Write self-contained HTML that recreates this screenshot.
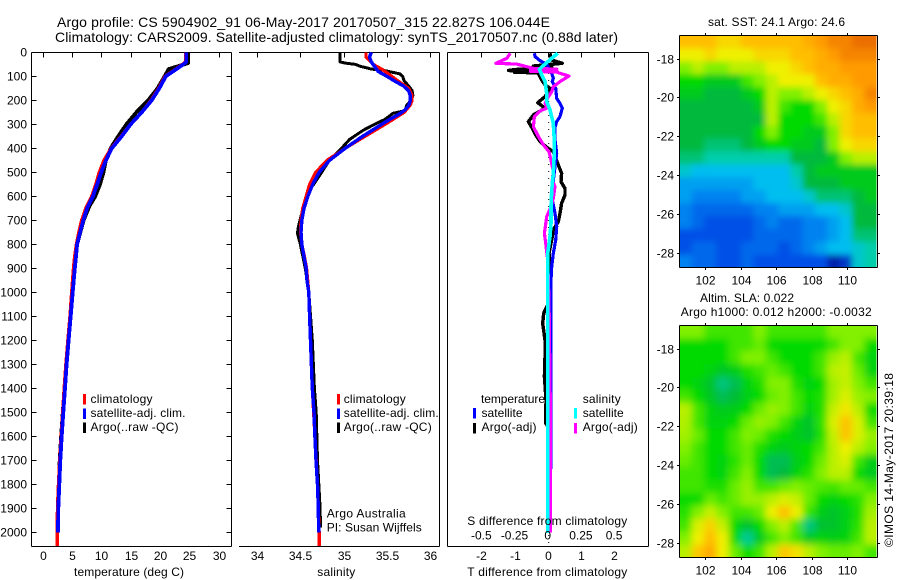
<!DOCTYPE html>
<html lang="en">
<head>
<meta charset="utf-8">
<title>Argo profile chart</title>
<style>
html,body{margin:0;padding:0;background:#fff;}
svg{display:block;}
text{font-family:"Liberation Sans",Arial,sans-serif;font-size:12px;fill:#000;}
.title{font-size:14px;}
</style>
</head>
<body>
<svg id="chart" xmlns="http://www.w3.org/2000/svg" width="900" height="580" viewBox="0 0 900 580">
<defs>
<clipPath id="clipSst"><rect x="679.5" y="35.5" width="197" height="232"/></clipPath>
<clipPath id="clipSla"><rect x="679.5" y="325.5" width="197" height="232"/></clipPath>
<filter id="softA" filterUnits="userSpaceOnUse" x="630" y="0" width="270" height="310"><feGaussianBlur stdDeviation="3.2"/></filter>
<filter id="softB" filterUnits="userSpaceOnUse" x="630" y="290" width="270" height="290"><feGaussianBlur stdDeviation="3.6"/></filter>
</defs>

<text class="title" x="57" y="27" textLength="493">Argo profile: CS 5904902_91 06-May-2017 20170507_315 22.827S 106.044E</text>
<text class="title" x="55" y="42" textLength="563">Climatology: CARS2009. Satellite-adjusted climatology: synTS_20170507.nc (0.88d later)</text>

<g id="p1"></g>
<g id="p2"></g>
<g id="p3"></g>
<g id="h1"></g>
<g id="h2"></g>

<g>
<rect x="83" y="394" width="3" height="10.5" fill="#f00"/>
<rect x="83" y="408.5" width="3" height="10.5" fill="#00f"/>
<rect x="83" y="422.5" width="3" height="10.5" fill="#000"/>
<text x="90.5" y="403" textLength="62">climatology</text>
<text x="90.5" y="417" textLength="95">satellite-adj. clim.</text>
<text x="90.5" y="431" textLength="88">Argo(..raw -QC)</text>
</g>
<g>
<rect x="337" y="394" width="3" height="10.5" fill="#f00"/>
<rect x="337" y="408.5" width="3" height="10.5" fill="#00f"/>
<rect x="337" y="422.5" width="3" height="10.5" fill="#000"/>
<text x="343.7" y="403" textLength="62">climatology</text>
<text x="343.7" y="417" textLength="95">satellite-adj. clim.</text>
<text x="343.7" y="431" textLength="88">Argo(..raw -QC)</text>
<text x="326.7" y="517.5" textLength="79">Argo Australia</text>
<text x="326.7" y="531.5" textLength="95">PI: Susan Wijffels</text>
</g>
<g>
<text x="481" y="403" textLength="64">temperature</text>
<rect x="473" y="408" width="3" height="10.5" fill="#00f"/>
<rect x="473" y="423" width="3" height="10.5" fill="#000"/>
<text x="481.5" y="417" textLength="41">satellite</text>
<text x="481.5" y="431" textLength="55">Argo(-adj)</text>
<text x="582.7" y="403" textLength="38">salinity</text>
<rect x="574" y="408" width="3" height="10.5" fill="#0ff"/>
<rect x="574" y="423" width="3" height="10.5" fill="#f0f"/>
<text x="582.7" y="417" textLength="41">satellite</text>
<text x="582.7" y="431" textLength="55">Argo(-adj)</text>
</g>

<text x="74" y="576" textLength="110">temperature (deg C)</text>
<text x="317.3" y="576" textLength="38">salinity</text>
<text x="467.3" y="525" textLength="160">S difference from climatology</text>
<text x="467.3" y="576" textLength="160">T difference from climatology</text>
<text x="708" y="26" textLength="137">sat. SST: 24.1 Argo: 24.6</text>
<text x="700" y="302" textLength="94">Altim. SLA: 0.022</text>
<text x="680.7" y="316" textLength="191">Argo h1000: 0.012 h2000: -0.0032</text>
<text transform="translate(893,547) rotate(-90)" textLength="174">©IMOS 14-May-2017 20:39:18</text>
</svg>

<script>
// ---- profile axes data ----
const depthTicks = [0,100,200,300,400,500,600,700,800,900,1000,1100,1200,1300,1400,1500,1600,1700,1800,1900,2000];
const tempTicks = [0,5,10,15,20,25,30];
const salTicks = [34,34.5,35,35.5,36];
const tDiffTicks = [-2,-1,0,1,2];
const sDiffTicks = [-0.5,-0.25,0,0.25,0.5];
const lonTicks = [102,104,106,108,110];
const latTicks = [-18,-20,-22,-24,-26,-28];

// ---- temperature profiles ----
const tempDepthSat = [0,40,50,100,150,200,250,300,350,400,450,500,550,600,650,700,750,800,850,900,1000,1100,1200,1300,1400,1500,1600,1700,1800,1900,2000];
const tempSat = [24.5,24.5,24,21,19.9,18.6,16.9,15,13.5,11.8,10.8,10,9.3,8.6,7.6,6.95,6.4,5.9,5.7,5.5,5.14,4.8,4.45,4.1,3.83,3.55,3.27,3.03,2.87,2.7,2.64];
const tempDepthClim = [0,40,50,100,150,200,250,300,350,400,450,500,550,600,650,700,750,800,850,900,1000,1100,1200,1300,1400,1500,1600,1700,1800,1900,2000,2057];
const tempClim = [24.4,24.4,23.9,20.9,19.8,18.5,16.9,15,13.4,11.7,10.5,9.7,9.1,8.4,7.4,6.7,6.2,5.8,5.5,5.3,5,4.7,4.35,4,3.72,3.45,3.2,2.95,2.75,2.58,2.52,2.5];
const tempDepthArgo = [0,45,55,70,100,150,200,250,300,350,400,450,500,550,600,640,700,800,900,1000,1100,1200,1300,1400,1500,1600,1700,1800,1900,1980];
const tempArgo = [24.8,24.8,23.5,21.5,20.8,19.6,18,16,14.3,12.9,11.6,10.8,10.4,9.8,9,8,7,5.9,5.5,5.1,4.75,4.4,4.05,3.75,3.45,3.17,2.93,2.8,2.62,2.55];

// ---- salinity profiles ----
const salDepthSat = [0,20,40,60,80,100,120,140,160,180,200,220,240,260,280,300,350,400,450,500,550,600,650,700,750,800,850,900,950,1000,1100,1200,1300,1400,1500,1600,1700,1800,1900,2000];
const salSat = [35.32,35.3,35.32,35.36,35.4,35.5,35.59,35.69,35.75,35.77,35.77,35.755,35.71,35.63,35.53,35.44,35.22,35.02,34.84,34.72,34.645,34.59,34.545,34.52,34.51,34.52,34.545,34.57,34.58,34.6,34.61,34.62,34.63,34.64,34.66,34.67,34.683,34.7,34.71,34.714];
const salDepthClim = [0,20,30,50,70,90,120,150,180,200,220,250,300,350,400,450,500,550,600,650,700,750,800,850,900,1000,1200,1400,1600,1800,2000,2057];
const salClim = [35.26,35.26,35.29,35.34,35.44,35.52,35.63,35.75,35.79,35.79,35.77,35.7,35.48,35.25,35.02,34.81,34.68,34.61,34.57,34.53,34.51,34.505,34.52,34.55,34.575,34.6,34.62,34.64,34.67,34.7,34.72,34.72];
const salDepthArgo = [0,40,45,50,60,65,70,75,90,100,120,140,160,180,200,219,243,254,279,296,324,363,407,449,532,574,671,726,754,796,900,1000,1200,1400,1500,1700,1900,1980];
const salArgo = [34.96,34.96,35.02,35.13,35.21,35.27,35.32,35.46,35.65,35.68,35.7,35.75,35.79,35.8,35.78,35.73,35.71,35.57,35.48,35.38,35.23,35.07,34.96,34.84,34.69,34.61,34.52,34.48,34.47,34.5,34.56,34.6,34.64,34.665,34.685,34.7,34.73,34.735];

// ---- difference profiles ----
const diffDepthTsat = [4,18,35,49,88,108,122,150,192,213,233,268,289,313,365,421,476,532,615,671,726,782,838,893,949,1032,1600,2000];
const diffTsat = [-0.4,-0.38,-0.23,-0.03,0.12,0.17,0.14,0.24,0.27,0.37,0.44,0.37,0.27,0.22,0.22,0.27,0.22,0.17,0.14,0.22,0.27,0.24,0.17,0.12,0.1,0.1,0.1,0.07];
const diffDepthSsat = [4,25,49,71,94,122,171,206,240,296,365,421,504,574,643,713,768,838,1032,2003];
const diffSsat = [0.075,0.03,-0.02,-0.0625,-0.045,-0.02,-0.0075,-0.0075,0.0175,0.0425,0.05,0.05,0.0425,0.03,0.025,0.025,0.0175,0,0,0];
const diffDepthTargo = [4,32,46,57,62,72,76,80,83,86,88,115,136,150,185,210,233,261,289,317,344,372,396,414,463,504,539,567,594,629,671,706,740,768,838,907,963,1032,1087,1129,1199,1268,1351,1449,1546,1565,1700,2000];
const diffTargo = [0.07,0.12,0.44,-0.43,0.12,-1,-1.18,-0.6,-1,-0.3,-0.28,-0.18,-0.08,0.07,-0.08,-0.3,-0.08,-0.43,-0.58,-0.46,-0.36,-0.23,-0.03,0.17,0.3,0.42,0.4,0.52,0.52,0.42,0.37,0.32,0.17,0.14,0.04,0.08,0.1,0.07,-0.12,-0.15,-0.08,-0.08,-0.1,-0.05,-0.06,0.03,0.05,0.05];
const diffDepthSargo = [4,25,46,49,67,70,73,76,79,82,85,99,122,143,164,185,213,233,244,268,310,351,386,414,449,497,532,560,608,643,685,754,796,865,1032,1500,2000];
const diffSargo = [-0.2825,-0.3075,-0.39,-0.2325,-0.1075,0.0675,-0.13,0.0675,-0.13,0.0675,0.08,0.16,0.0925,0.0425,0.03,0.005,-0.02,-0.0075,-0.0575,-0.1,-0.1075,-0.07,-0.0325,0.01,0.025,0.0425,0.035,0.055,0.0425,0.025,-0.0075,-0.025,-0.015,0,0.01,0.02,0.02];

// ---- map fields (16 columns by 18 rows, north to south) ----
const sstField = [
[9,9,9,8.5,8.5,9,9,9,9,9,9.5,10,10.5,10.5,11,11],
[8,8,8.5,8,8,8,8.5,8.5,8.5,9,9,9.5,10,10.5,10.5,10.5],
[7,7.5,7,7,7.5,7.5,7.5,8,8,8.5,9,9.5,9.5,10,10,10],
[6,6,5.5,5.5,5.5,6.5,7,7.5,8,8,8,9,9.5,9.5,10,10],
[5.5,5.5,5,5,5,5.5,6,7.5,7,7,7.5,8,8.5,9,9.5,10.5],
[5,5,5,5,5,5,5.5,7.5,6.5,6,6,7,8,8.5,9.5,10],
[5,5,5,5,5,5,5,7.5,6,6,6,6.5,7.5,8.5,9,9],
[5,5,5,5,5,5,6,7,6,6,5.5,5.5,7,8.5,9,9],
[5,5,4.5,4.5,4.5,5,5.5,6,6,5.5,5.5,5,7,8,8.5,8.5],
[4.5,4.5,4,4,4,4,4,4,4,5,5,5,5.5,7,7.5,7.5],
[3.5,3,3,3,3,3,3,3,3,4,5,5.5,5.5,5.5,5.5,5.5],
[2.5,2.5,2.5,2.5,2.5,2.5,3,3,3,3.5,5,5,5,5.5,5.5,5.5],
[2.5,2,2,2,2,2.5,2.5,3,3,3,3.5,4.5,4.5,4.5,5,5.5],
[2,1.5,1.5,1.5,1.5,1.5,2,2,2.5,2.5,2.5,3,3,3.5,5,5],
[2,1.5,1,1,1,1,1.5,2,1.5,1.5,2,2,2.5,3,5,5],
[1,1,1,1,1,1,1.5,1.5,1.5,1.5,2,2,2.5,3,4.5,4.5],
[1,1.5,1.5,1,1,1.5,1.5,1.5,1,1.5,2,2.5,3,3,3.5,4],
[2,1.5,1.5,1,1,1.5,1,1,1,1,1,1,0,0.5,3.5,4]
];
const slaField = [
[7,7,6.5,6.5,6.5,6.5,7,6.5,6.5,6.5,6.5,6.5,7,7,7,7],
[6,6,6,6,6.5,6.5,6.8,6,6,6,6,6,6.5,7,7,6],
[6,6,6,6,6.5,7,7,6.5,6,6,6,6.5,7.2,7.5,6.5,5.8],
[6,6,5.8,5.4,5.6,6.2,6.5,6.8,6.5,6,6,6.5,7.5,7.6,6.8,5.8],
[6,5.8,5.3,4.4,4.8,5.8,6.2,7,7,6.2,5.8,6,7.3,7.6,7,6.5],
[6.5,6,5.4,4.8,5.1,5.7,6,6.8,7,6.5,6,6.2,7.3,7.8,7.2,7],
[7.5,6.5,5.8,5.5,5.6,6,6.8,7.2,7,6.5,5.8,6.2,7.6,8.2,7.5,6],
[7.4,6.5,5.8,5.8,6,6.8,7.2,7,6.5,5.8,5.3,6.3,7.8,8.9,7.8,6.5],
[7.3,6.8,6,6,6.5,7,6.8,6.2,6,5.6,5.3,6.2,7.6,8.9,7.8,7.2],
[7,6.5,6,6,6.5,6.8,6.2,5.8,5.5,5.8,6,6.5,7.5,8,7.5,7],
[6.8,6.5,6,5.8,6.3,6.8,6,4.8,4.8,5.6,6,6.8,7.5,7.8,6.5,5.6],
[6.5,6.5,6,5.8,6.5,7,6,4.8,5,5.8,6.3,7,7.5,7.5,6,5.5],
[6.5,6.5,6.2,6.2,6.8,7.2,6.5,6.5,6.8,7,6.8,6.6,6.5,6.8,6.8,6.5],
[6,6,6.8,6.5,6.8,7.2,7.2,7.5,7.8,7.6,6.8,6,5.8,6,6.3,7],
[6.3,7,7.6,7,6.5,6.5,6.8,8,9,8,6.4,5.6,5.3,5.7,6.2,7.3],
[6.5,7.8,8.6,7.6,6,5.3,6,7,7.5,6.6,4.4,5.2,5.3,5.7,6.3,7.5],
[7,8,9,8,6,4.2,5.5,6.5,7,6.5,5.5,5.8,5.6,5.8,6.5,7.5],
[7.5,8.8,9.6,8,6.8,6,6.5,7.5,8.8,8.3,7.5,7,6.8,6.8,7,6.5]
];
const colourStops = [[0,0,32,170],[1,0,80,230],[2,0,130,240],[3,0,190,240],[4,0,205,170],[5,0,185,60],[6,0,218,0],[7,130,240,0],[8,240,240,0],[9,255,190,0],[10,255,155,0],[11,235,110,0]];

// ---- axis functions ----
const NS = 'http://www.w3.org/2000/svg';
const depthY = d => 52.3 + 0.24 * d;
const tempX = t => 42.5 + 5.87 * t;
const salX = s => 256.7 + 86.8 * (s - 34);
const tDiffX = t => 547.7 + 33.2 * t;
const sDiffX = s => 547.7 + 132.8 * s;
const lonX = l => 705.3 + 17.75 * (l - 102);
const latYTop = (la, top) => top + 23 + 19.4 * (-18 - la);

function make(tag, parent, attrs) {
  const el = document.createElementNS(NS, tag);
  for (const k in attrs) el.setAttribute(k, attrs[k]);
  parent.appendChild(el);
  return el;
}
function line(parent, x1, y1, x2, y2) {
  return make('line', parent, {x1, y1, x2, y2, stroke: '#000', 'stroke-width': 1, 'shape-rendering': 'crispEdges'});
}
function label(parent, str, x, y, anchor) {
  const t = make('text', parent, {x, y, 'text-anchor': anchor});
  t.textContent = str;
  return t;
}
function profile(parent, depths, vals, xf, colour, width) {
  const pts = depths.map((d, i) => xf(vals[i]).toFixed(1) + ',' + depthY(d).toFixed(1)).join(' ');
  return make('polyline', parent, {points: pts, fill: 'none', stroke: colour, 'stroke-width': width, 'stroke-linejoin': 'round', 'shape-rendering': 'crispEdges'});
}

// ---- temperature panel ----
const p1 = document.getElementById('p1');
let el;
el = line(p1, 31.5, 52.5, 231.5, 52.5);


el = line(p1, 31.5, 546.5, 231.5, 546.5);


el = line(p1, 31.5, 52.5, 31.5, 546.5);


el = line(p1, 231.5, 52.5, 231.5, 546.5);


depthTicks.forEach(d => {
  const y = Math.round(depthY(d)) + 0.5;
  let a = line(p1, 31.5, y, 36.5, y);
  
  
  a = line(p1, 226.5, y, 231.5, y);
  
  
  a = label(p1, String(d), 27, y + 4, 'end');
  
  
});
tempTicks.forEach(v => {
  const x = Math.round(tempX(v)) + 0.5;
  let a = line(p1, x, 52.5, x, 57.5);
  
  
  a = label(p1, String(v), x, 560, 'middle');
  
  
});
el = profile(p1, tempDepthArgo, tempArgo, tempX, '#000', 3.8);


el = profile(p1, tempDepthClim, tempClim, tempX, '#f00', 3.6);


el = profile(p1, tempDepthSat, tempSat, tempX, '#00f', 3.8);



// ---- salinity panel ----
const p2 = document.getElementById('p2');
el = line(p2, 239, 52.5, 439.5, 52.5);


el = line(p2, 239, 546.5, 439.5, 546.5);


el = line(p2, 439.5, 52.5, 439.5, 546.5);


salTicks.forEach(v => {
  const x = Math.round(salX(v)) + 0.5;
  let a = line(p2, x, 52.5, x, 57.5);
  
  
  a = label(p2, String(v), x, 560, 'middle');
  
  
});
el = profile(p2, salDepthArgo, salArgo, salX, '#000', 3);


el = profile(p2, salDepthClim, salClim, salX, '#f00', 3.2);


el = profile(p2, salDepthSat, salSat, salX, '#00f', 3.4);



// ---- difference panel ----
const p3 = document.getElementById('p3');
el = line(p3, 447.5, 52.5, 648.5, 52.5);


el = line(p3, 447.5, 546.5, 648.5, 546.5);


el = line(p3, 447.5, 52.5, 447.5, 546.5);


el = line(p3, 648.5, 52.5, 648.5, 546.5);


el = make('line', p3, {x1: tDiffX(0) + 1, y1: 52, x2: tDiffX(0) + 1, y2: 546, stroke: '#000', 'stroke-width': 1, 'stroke-dasharray': '1 6'});


tDiffTicks.forEach(v => {
  const x = Math.round(tDiffX(v)) + 0.5;
  let a = line(p3, x, 52.5, x, 57.5);
  
  
  a = label(p3, String(v), x, 560, 'middle');
  
  
});
el = profile(p3, diffDepthTargo, diffTargo, tDiffX, '#000', 3.4);


el = profile(p3, diffDepthTsat, diffTsat, tDiffX, '#00f', 3.2);


el = profile(p3, diffDepthSargo, diffSargo, sDiffX, '#f0f', 3.2);


el = profile(p3, diffDepthSsat, diffSsat, sDiffX, '#0ff', 3.6);


sDiffTicks.forEach(v => {
  const a = label(p3, String(v), sDiffX(v), 539.5, 'middle');
  
  
});

// ---- maps ----
function fieldColour(v) {
  const lo = Math.max(0, Math.min(colourStops.length - 2, Math.floor(v)));
  const f = v - lo;
  const a = colourStops[lo], b = colourStops[lo + 1];
  return 'rgb(' + [1, 2, 3].map(i => Math.round(a[i] + (b[i] - a[i]) * f)).join(',') + ')';
}
function drawMap(group, field, top, clipId, filterId, prefix) {
  const clip = make('g', group, {'clip-path': 'url(#' + clipId + ')'});
  const soft = make('g', clip, {filter: 'url(#' + filterId + ')'});
  const left = 679.5, w = 197, h = 232;
  const nr = field.length;
  field.forEach((row, r) => {
    const nc = row.length;
    row.forEach((v, c) => {
      const cw = w / nc, ch = h / nr;
      const x0 = c === 0 ? left - 24 : left + c * cw;
      const x1 = c === nc - 1 ? left + w + 24 : left + (c + 1) * cw;
      const y0 = r === 0 ? top - 24 : top + r * ch;
      const y1 = r === nr - 1 ? top + h + 24 : top + (r + 1) * ch;
      const cell = make('rect', soft, {x: x0, y: y0, width: x1 - x0 + 0.6, height: y1 - y0 + 0.6, fill: fieldColour(v)});
      
      
    });
  });
  const bottom = top + h + 0.2;
  [[left, top, left + 198, top], [left, bottom, left + 198, bottom], [left, top, left, bottom], [left + 198, top, left + 198, bottom]].forEach(s => {
    const a = line(group, s[0], s[1], s[2], s[3]);
    
    
  });
  lonTicks.forEach(v => {
    const x = Math.round(lonX(v)) + 0.5;
    let a = line(group, x, top - 2.5, x, top);
    
    
    a = line(group, x, bottom, x, bottom + 2.5);
    
    
    a = label(group, String(v), x, top + 249, 'middle');
    
    
  });
  latTicks.forEach(v => {
    const y = Math.round(latYTop(v, top)) + 0.5;
    let a = line(group, left - 2.5, y, left, y);
    
    
    a = line(group, left + 198, y, left + 200.5, y);
    
    
    a = label(group, String(v), 674, y + 4, 'end');
    
    
  });
}
drawMap(document.getElementById('h1'), sstField, 35.5, 'clipSst', 'softA', 'sst');
drawMap(document.getElementById('h2'), slaField, 325.5, 'clipSla', 'softB', 'sla');
</script>
</body>
</html>
